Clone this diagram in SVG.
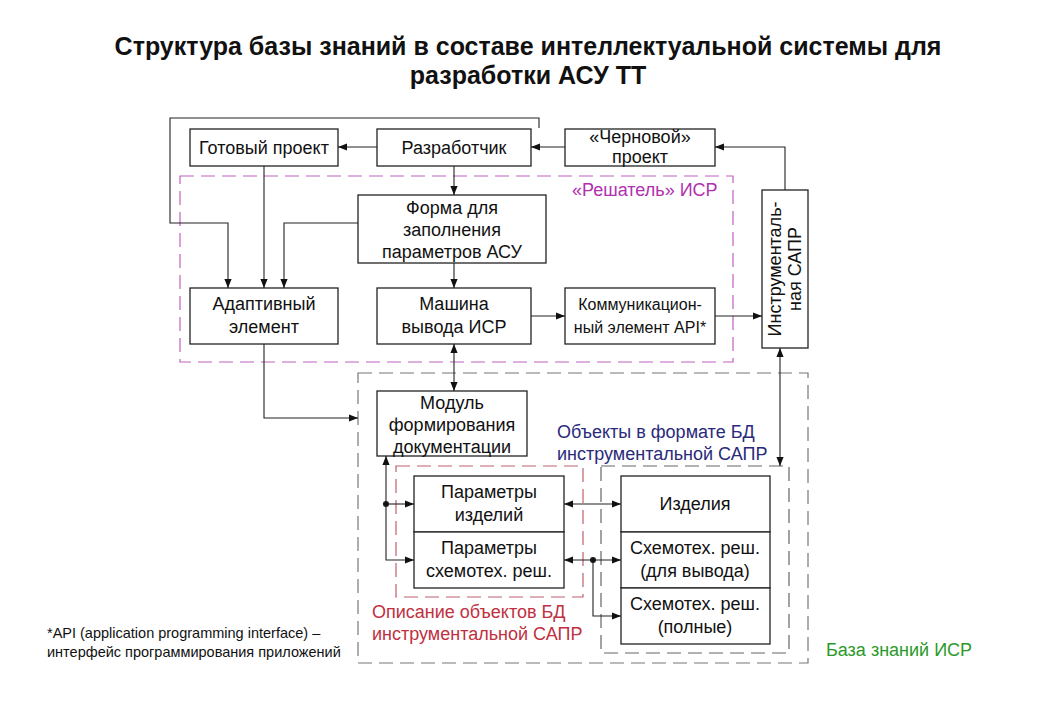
<svg xmlns="http://www.w3.org/2000/svg" width="1040" height="720" viewBox="0 0 1040 720">
<style>
text{font-family:"Liberation Sans",Arial,sans-serif;font-size:18px;fill:#111}
.b rect{fill:#fff;stroke:#222;stroke-width:1.3}
.c{fill:none;stroke:#222;stroke-width:1.1}
.t{font-size:25px;font-weight:bold;text-anchor:middle}
.m{text-anchor:middle}
</style>
<defs>
<marker id="a" viewBox="0 0 10 10" refX="10" refY="5" markerWidth="9" markerHeight="9" orient="auto-start-reverse" markerUnits="userSpaceOnUse"><path d="M0,1 L10,5 L0,9 z" fill="#111"/></marker>
</defs>
<rect width="1040" height="720" fill="#fff"/>
<text class="t" x="528" y="55">Структура базы знаний в составе интеллектуальной системы для</text>
<text class="t" x="528" y="84">разработки АСУ ТТ</text>

<g id="groups" fill="none" stroke-width="1.2" stroke-dasharray="14,7">
<rect x="180" y="176" width="553" height="186" stroke="#c060c0"/>
<rect x="358" y="373" width="450" height="290" stroke="#777"/>
<rect x="396" y="466" width="187" height="131" stroke="#c06070"/>
<rect x="601" y="466" width="188" height="187" stroke="#666"/>
</g>
<text x="572" y="196" style="fill:#b030b0">«Решатель» ИСР</text>
<text x="557" y="438" style="fill:#2a2a7a">Объекты в формате БД</text>
<text x="557" y="460" style="fill:#2a2a7a">инструментальной САПР</text>
<text x="372" y="618" style="fill:#c03040">Описание объектов БД</text>
<text x="372" y="640" style="fill:#c03040">инструментальной САПР</text>
<text x="826" y="656" style="fill:#2a9a2a">База знаний ИСР</text>
<text x="47" y="638" style="font-size:14.5px">*API (application programming interface) –</text>
<text x="47" y="657" style="font-size:14.5px">интерфейс программирования приложений</text>

<g id="n-gotovy" class="b"><rect x="190" y="129" width="148" height="37"/><text class="m" x="264" y="154">Готовый проект</text></g>
<g id="n-razrab" class="b"><rect x="377" y="129" width="154" height="37"/><text class="m" x="454" y="154">Разработчик</text></g>
<g id="n-chern" class="b"><rect x="565" y="129" width="150" height="37"/><text class="m" x="640" y="143">«Черновой»</text><text class="m" x="640" y="163">проект</text></g>
<g id="n-forma" class="b"><rect x="358" y="195" width="188" height="68"/><text class="m" x="452" y="214">Форма для</text><text class="m" x="452" y="236">заполнения</text><text class="m" x="452" y="258">параметров АСУ</text></g>
<g id="n-adapt" class="b"><rect x="190" y="288" width="148" height="56"/><text class="m" x="264" y="310">Адаптивный</text><text class="m" x="264" y="333">элемент</text></g>
<g id="n-mash" class="b"><rect x="377" y="288" width="154" height="56"/><text class="m" x="454" y="310">Машина</text><text class="m" x="454" y="333">вывода ИСР</text></g>
<g id="n-komm" class="b"><rect x="565" y="288" width="150" height="56"/><text class="m" x="640" y="310" style="font-size:16px">Коммуникацион-</text><text class="m" x="640" y="333" style="font-size:16px">ный элемент API*</text></g>
<g id="n-instr" class="b"><rect x="762" y="190" width="46" height="158"/><text class="m" transform="translate(781,269) rotate(-90)">Инструменталь-</text><text class="m" transform="translate(801,269) rotate(-90)">ная САПР</text></g>
<g id="n-modul" class="b"><rect x="377" y="391" width="150" height="65"/><text class="m" x="452" y="409">Модуль</text><text class="m" x="452" y="431">формирования</text><text class="m" x="452" y="453">документации</text></g>
<g id="n-pizd" class="b"><rect x="414" y="476" width="150" height="56"/><text class="m" x="489" y="498">Параметры</text><text class="m" x="489" y="521">изделий</text></g>
<g id="n-psh" class="b"><rect x="414" y="532" width="150" height="56"/><text class="m" x="489" y="554">Параметры</text><text class="m" x="489" y="577">схемотех. реш.</text></g>
<g id="n-izd" class="b"><rect x="621" y="476" width="149" height="56"/><text class="m" x="695" y="510">Изделия</text></g>
<g id="n-shv" class="b"><rect x="621" y="532" width="149" height="56"/><text class="m" x="695" y="554">Схемотех. реш.</text><text class="m" x="695" y="577">(для вывода)</text></g>
<g id="n-shp" class="b"><rect x="621" y="588" width="149" height="56"/><text class="m" x="695" y="610">Схемотех. реш.</text><text class="m" x="695" y="633">(полные)</text></g>

<g id="connectors" class="c">
<path d="M539,128 V118 H170 V223 H228 V288" marker-end="url(#a)"/>
<path d="M377,147 H338" marker-end="url(#a)"/>
<path d="M565,147 H531" marker-end="url(#a)"/>
<path d="M785,190 V147 H715" marker-end="url(#a)"/>
<path d="M454,166 V195" marker-end="url(#a)"/>
<path d="M264,166 V288" marker-end="url(#a)"/>
<path d="M358,223 H284 V288" marker-end="url(#a)"/>
<path d="M454,263 V288" marker-end="url(#a)"/>
<path d="M531,316 H565" marker-end="url(#a)"/>
<path d="M715,316 H762" marker-end="url(#a)"/>
<path d="M454,344 V391" marker-start="url(#a)" marker-end="url(#a)"/>
<path d="M264,344 V418 H358" marker-end="url(#a)"/>
<path d="M780,348 V466" marker-start="url(#a)" marker-end="url(#a)"/>
<path d="M386,504 V456" marker-end="url(#a)"/>
<path d="M386,504 H414" marker-end="url(#a)"/>
<path d="M386,504 V560 H414" marker-end="url(#a)"/>
<path d="M564,504 H621" marker-start="url(#a)" marker-end="url(#a)"/>
<path d="M564,560 H621" marker-start="url(#a)" marker-end="url(#a)"/>
<path d="M593,560 V616 H621" marker-end="url(#a)"/>
<circle cx="386" cy="504" r="2.5" fill="#111"/>
<circle cx="593" cy="560" r="2.5" fill="#111"/>
</g>
</svg>
